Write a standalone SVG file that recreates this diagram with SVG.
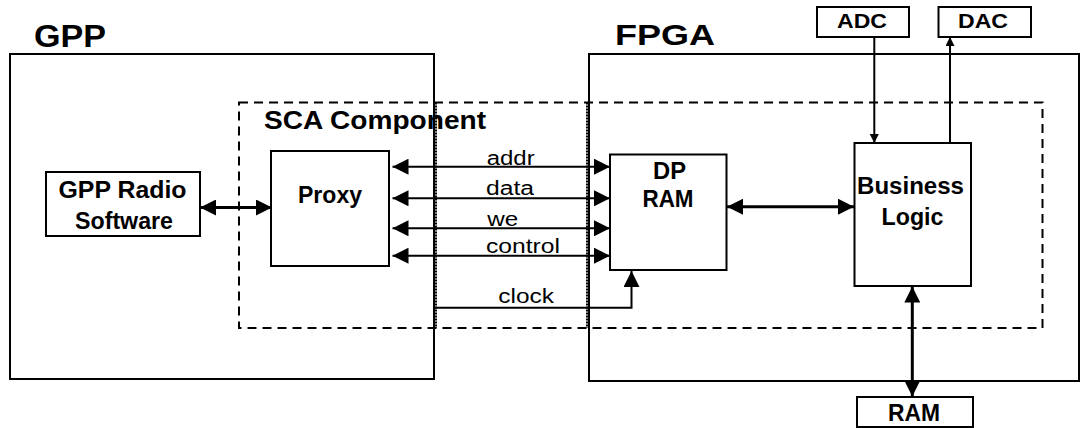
<svg xmlns="http://www.w3.org/2000/svg" width="1089" height="428" viewBox="0 0 1089 428">
<style>
.box{fill:#fff;stroke:#000;stroke-width:2}
.frame{fill:none;stroke:#000;stroke-width:2}
.b{font-family:"Liberation Sans",Arial,sans-serif;font-weight:bold;fill:#000}
.r{font-family:"Liberation Sans",Arial,sans-serif;fill:#000;font-size:20px}
.c{text-anchor:middle}
.w{fill:none;stroke:#000}
.dot{stroke:#000;stroke-width:2;stroke-dasharray:2 1}
</style>
<defs>
<marker id="big" markerUnits="userSpaceOnUse" markerWidth="16" markerHeight="16" viewBox="0 0 16 16" refX="16" refY="8" orient="auto-start-reverse"><path d="M0,0 L16,8 L0,16 z" fill="#000"/></marker>
<marker id="small" markerUnits="userSpaceOnUse" markerWidth="9" markerHeight="9" viewBox="0 0 9 9" refX="9" refY="4.5" orient="auto-start-reverse"><path d="M0,0 L9,4.5 L0,9 z" fill="#000"/></marker>
</defs>
<rect width="1089" height="428" fill="#fff"/>
<g id="gpp">
<rect class="frame" x="10" y="54" width="424" height="325"/>
<text class="b" x="34" y="46.5" font-size="32" textLength="72" lengthAdjust="spacingAndGlyphs">GPP</text>
</g>
<g id="fpga">
<rect class="frame" x="589" y="54" width="490" height="327"/>
<text class="b" x="615" y="45" font-size="30" textLength="100" lengthAdjust="spacingAndGlyphs">FPGA</text>
</g>
<g id="sca">
<rect x="239" y="102.5" width="803.5" height="225.5" fill="none" stroke="#000" stroke-width="2" stroke-dasharray="9 6"/>
<line class="dot" x1="436" y1="102.5" x2="436" y2="328"/>
<line class="dot" x1="587" y1="102.5" x2="587" y2="328"/>
<text class="b" x="264" y="128.5" font-size="26" textLength="222" lengthAdjust="spacingAndGlyphs">SCA Component</text>
</g>
<g id="radio">
<rect class="box" x="46" y="172" width="154" height="64"/>
<text class="b c" x="122.5" y="198.3" font-size="23" textLength="128" lengthAdjust="spacingAndGlyphs">GPP Radio</text>
<text class="b c" x="124" y="229.3" font-size="23" textLength="98" lengthAdjust="spacingAndGlyphs">Software</text>
</g>
<g id="proxy">
<rect class="box" x="271" y="151" width="118" height="115"/>
<text class="b c" x="330" y="202.5" font-size="23" textLength="64" lengthAdjust="spacingAndGlyphs">Proxy</text>
</g>
<g id="dpram">
<rect class="box" x="610" y="154.5" width="116.5" height="115.5"/>
<text class="b c" x="669.5" y="179.3" font-size="23" textLength="33" lengthAdjust="spacingAndGlyphs">DP</text>
<text class="b c" x="668" y="206.7" font-size="23" textLength="51" lengthAdjust="spacingAndGlyphs">RAM</text>
</g>
<g id="logic">
<rect class="box" x="854.5" y="143" width="116.5" height="143"/>
<text class="b c" x="910.5" y="194.3" font-size="23" textLength="107" lengthAdjust="spacingAndGlyphs">Business</text>
<text class="b c" x="912.5" y="225" font-size="23" textLength="62" lengthAdjust="spacingAndGlyphs">Logic</text>
</g>
<g id="adc">
<rect class="box" x="817" y="7" width="92" height="30"/>
<text class="b c" x="862" y="28.3" font-size="21" textLength="50" lengthAdjust="spacingAndGlyphs">ADC</text>
</g>
<g id="dac">
<rect class="box" x="938.5" y="7" width="92.5" height="30"/>
<text class="b c" x="983" y="28.3" font-size="21" textLength="50" lengthAdjust="spacingAndGlyphs">DAC</text>
</g>
<g id="ram">
<rect class="box" x="857" y="397" width="116" height="30"/>
<text class="b c" x="914" y="420.5" font-size="23" textLength="52" lengthAdjust="spacingAndGlyphs">RAM</text>
</g>
<g id="connectors">
<line class="w" stroke-width="3" x1="200" y1="207.5" x2="272" y2="207.5" marker-start="url(#big)" marker-end="url(#big)"/>
<line class="w" stroke-width="2" x1="392.5" y1="166.7" x2="610" y2="166.7" marker-start="url(#big)" marker-end="url(#big)"/>
<line class="w" stroke-width="2" x1="392.5" y1="198.3" x2="610" y2="198.3" marker-start="url(#big)" marker-end="url(#big)"/>
<line class="w" stroke-width="2" x1="392.5" y1="228.3" x2="610" y2="228.3" marker-start="url(#big)" marker-end="url(#big)"/>
<line class="w" stroke-width="2" x1="392.5" y1="255.7" x2="610" y2="255.7" marker-start="url(#big)" marker-end="url(#big)"/>
<path class="w" stroke-width="2" d="M435,307.7 H631.5 V271" marker-end="url(#big)"/>
<line class="w" stroke-width="3" x1="727" y1="206.7" x2="854" y2="206.7" marker-start="url(#big)" marker-end="url(#big)"/>
<line class="w" stroke-width="2" x1="874.3" y1="37" x2="874.3" y2="143" marker-end="url(#small)"/>
<line class="w" stroke-width="2" x1="950" y1="143" x2="950" y2="37" marker-end="url(#small)"/>
<line class="w" stroke-width="3" x1="912.3" y1="286.5" x2="912.3" y2="396.5" marker-start="url(#big)" marker-end="url(#big)"/>
<text class="r" x="486.7" y="165" textLength="48" lengthAdjust="spacingAndGlyphs">addr</text>
<text class="r" x="486" y="195" textLength="48" lengthAdjust="spacingAndGlyphs">data</text>
<text class="r" x="487.3" y="226" textLength="31" lengthAdjust="spacingAndGlyphs">we</text>
<text class="r" x="486" y="253.3" textLength="74" lengthAdjust="spacingAndGlyphs">control</text>
<text class="r" x="498.3" y="303.3" textLength="55.7" lengthAdjust="spacingAndGlyphs">clock</text>
</g>
</svg>
